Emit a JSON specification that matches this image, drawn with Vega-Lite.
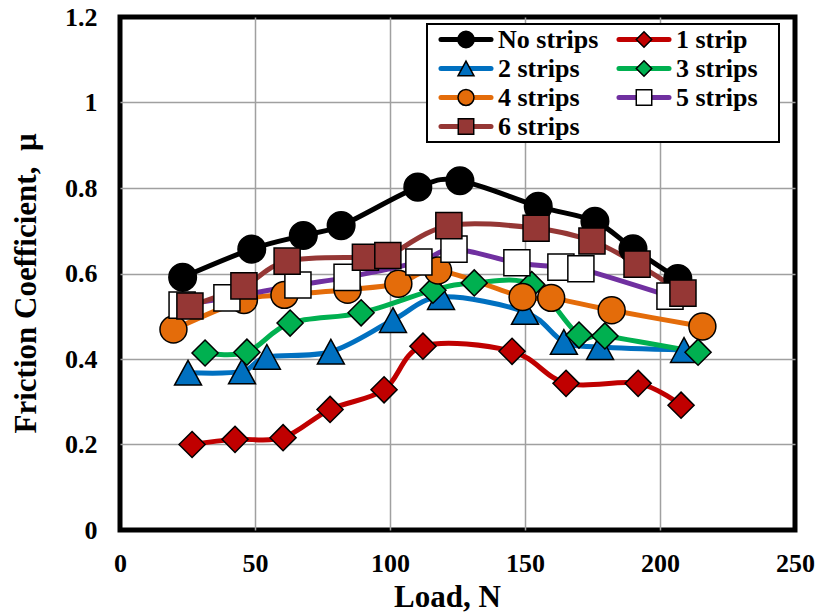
{
  "$schema": "https://vega.github.io/schema/vega-lite/v6.json",
  "width": 675,
  "height": 513,
  "autosize": {"type": "none"},
  "padding": {"left": 120, "top": 17, "right": 22, "bottom": 85},
  "background": "white",
  "config": {
    "view": {"stroke": "black", "strokeWidth": 5},
    "font": "Liberation Serif",
    "axis": {
      "labelFont": "Liberation Serif",
      "labelFontSize": 26,
      "labelFontWeight": "bold",
      "labelColor": "black",
      "titleFont": "Liberation Serif",
      "titleFontSize": 31,
      "titleFontWeight": "bold",
      "titleColor": "black",
      "ticks": false,
      "domain": false,
      "gridColor": "#A0A0A0",
      "gridWidth": 1.5,
      "labelFlush": false,
      "labelOverlap": false
    }
  },
  "data": {
    "values": [
      {"series": "No strips", "load": 23.2, "mu": 0.591},
      {"series": "No strips", "load": 48.8, "mu": 0.657},
      {"series": "No strips", "load": 67.9, "mu": 0.689},
      {"series": "No strips", "load": 81.9, "mu": 0.712},
      {"series": "No strips", "load": 110.3, "mu": 0.802},
      {"series": "No strips", "load": 125.9, "mu": 0.817},
      {"series": "No strips", "load": 154.9, "mu": 0.757},
      {"series": "No strips", "load": 175.9, "mu": 0.722},
      {"series": "No strips", "load": 190.0, "mu": 0.658},
      {"series": "No strips", "load": 206.6, "mu": 0.588},
      {"series": "1 strip", "load": 26.7, "mu": 0.2},
      {"series": "1 strip", "load": 42.6, "mu": 0.212},
      {"series": "1 strip", "load": 60.4, "mu": 0.216},
      {"series": "1 strip", "load": 77.8, "mu": 0.282},
      {"series": "1 strip", "load": 97.8, "mu": 0.328},
      {"series": "1 strip", "load": 112.2, "mu": 0.43},
      {"series": "1 strip", "load": 145.2, "mu": 0.418},
      {"series": "1 strip", "load": 165.2, "mu": 0.343},
      {"series": "1 strip", "load": 191.9, "mu": 0.343},
      {"series": "1 strip", "load": 207.8, "mu": 0.292},
      {"series": "2 strips", "load": 25.2, "mu": 0.368},
      {"series": "2 strips", "load": 45.2, "mu": 0.371},
      {"series": "2 strips", "load": 54.4, "mu": 0.405},
      {"series": "2 strips", "load": 78.1, "mu": 0.417},
      {"series": "2 strips", "load": 101.1, "mu": 0.491},
      {"series": "2 strips", "load": 118.9, "mu": 0.545},
      {"series": "2 strips", "load": 150.0, "mu": 0.51},
      {"series": "2 strips", "load": 164.4, "mu": 0.44},
      {"series": "2 strips", "load": 177.8, "mu": 0.428},
      {"series": "2 strips", "load": 208.9, "mu": 0.421},
      {"series": "3 strips", "load": 31.5, "mu": 0.414},
      {"series": "3 strips", "load": 47.0, "mu": 0.416},
      {"series": "3 strips", "load": 63.0, "mu": 0.484},
      {"series": "3 strips", "load": 89.3, "mu": 0.508},
      {"series": "3 strips", "load": 115.9, "mu": 0.561},
      {"series": "3 strips", "load": 131.2, "mu": 0.578},
      {"series": "3 strips", "load": 152.5, "mu": 0.574},
      {"series": "3 strips", "load": 170.0, "mu": 0.456},
      {"series": "3 strips", "load": 179.6, "mu": 0.454},
      {"series": "3 strips", "load": 214.1, "mu": 0.416},
      {"series": "4 strips", "load": 19.8, "mu": 0.469},
      {"series": "4 strips", "load": 45.9, "mu": 0.538},
      {"series": "4 strips", "load": 60.9, "mu": 0.55},
      {"series": "4 strips", "load": 84.3, "mu": 0.562},
      {"series": "4 strips", "load": 103.1, "mu": 0.576},
      {"series": "4 strips", "load": 117.8, "mu": 0.607},
      {"series": "4 strips", "load": 149.1, "mu": 0.545},
      {"series": "4 strips", "load": 159.7, "mu": 0.543},
      {"series": "4 strips", "load": 182.1, "mu": 0.514},
      {"series": "4 strips", "load": 215.7, "mu": 0.476},
      {"series": "5 strips", "load": 23.0, "mu": 0.526},
      {"series": "5 strips", "load": 39.6, "mu": 0.543},
      {"series": "5 strips", "load": 65.9, "mu": 0.573},
      {"series": "5 strips", "load": 84.1, "mu": 0.591},
      {"series": "5 strips", "load": 110.7, "mu": 0.627},
      {"series": "5 strips", "load": 123.7, "mu": 0.657},
      {"series": "5 strips", "load": 147.0, "mu": 0.625},
      {"series": "5 strips", "load": 163.3, "mu": 0.615},
      {"series": "5 strips", "load": 170.7, "mu": 0.611},
      {"series": "5 strips", "load": 203.7, "mu": 0.547},
      {"series": "6 strips", "load": 25.9, "mu": 0.524},
      {"series": "6 strips", "load": 45.9, "mu": 0.571},
      {"series": "6 strips", "load": 61.9, "mu": 0.629},
      {"series": "6 strips", "load": 90.9, "mu": 0.638},
      {"series": "6 strips", "load": 99.2, "mu": 0.642},
      {"series": "6 strips", "load": 121.8, "mu": 0.712},
      {"series": "6 strips", "load": 154.1, "mu": 0.706},
      {"series": "6 strips", "load": 174.8, "mu": 0.676},
      {"series": "6 strips", "load": 191.5, "mu": 0.622},
      {"series": "6 strips", "load": 208.5, "mu": 0.554}
    ]
  },
  "encoding": {
    "x": {
      "field": "load",
      "type": "quantitative",
      "scale": {"domain": [0, 250], "nice": false, "zero": false},
      "axis": {
        "values": [0, 50, 100, 150, 200, 250],
        "title": "Load, N",
        "labelPadding": 41,
        "labelBaseline": "alphabetic",
        "titleX": 327,
        "titleY": 76,
        "titleBaseline": "alphabetic",
        "gridOpacity": {"condition": {"test": "datum.value === 0 || datum.value === 250", "value": 0}, "value": 1}
      }
    },
    "y": {
      "field": "mu",
      "type": "quantitative",
      "scale": {"domain": [0, 1.2], "nice": false},
      "axis": {
        "values": [0, 0.2, 0.4, 0.6, 0.8, 1, 1.2],
        "format": "~g",
        "title": "Friction Coefficient,\u00a0 μ",
        "labelPadding": 23,
        "titleX": -85,
        "titleY": 266,
        "titleAngle": 270,
        "titleBaseline": "alphabetic",
        "gridOpacity": {"condition": {"test": "datum.value === 0 || datum.value === 1.2", "value": 0}, "value": 1}
      }
    }
  },
  "layer": [
    {
      "mark": {"type": "line", "interpolate": "cardinal", "strokeWidth": 5},
      "encoding": {
        "stroke": {
          "field": "series",
          "type": "nominal",
          "scale": {
            "domain": ["No strips", "1 strip", "2 strips", "3 strips", "4 strips", "5 strips", "6 strips"],
            "range": ["#000000", "#C00000", "#0070C0", "#00B050", "#E46C0A", "#7030A0", "#953735"]
          },
          "legend": {
            "orient": "none",
            "direction": "horizontal",
            "legendX": 307,
            "legendY": 7,
            "title": "xx",
            "titleOrient": "right",
            "titlePadding": 5,
            "titleFontSize": 14,
            "titleOpacity": 0,
            "values": ["No strips", "1 strip", "2 strips", "3 strips", "4 strips", "5 strips", "6 strips"],
            "columns": 2,
            "columnPadding": 8,
            "rowPadding": 2,
            "clipHeight": 27,
            "symbolType": "M-0.725,0H0.725",
            "symbolSize": 4761,
            "symbolStrokeWidth": 5,
            "symbolOffset": 0,
            "labelFont": "Liberation Serif",
            "labelFontSize": 26,
            "labelFontWeight": "bold",
            "labelColor": "black",
            "labelOffset": -5,
            "padding": 2,
            "strokeColor": "black",
            "fillColor": "white",
            "encode": {
              "symbols": {"update": {"strokeCap": {"value": "round"}}},
              "legend": {"update": {"strokeWidth": {"value": 2}}}
            }
          }
        }
      }
    },
    {
      "mark": {"type": "point", "filled": true, "stroke": "black", "strokeWidth": 1.5, "size": 15000, "opacity": 1},
      "encoding": {
        "shape": {
          "field": "series",
          "type": "nominal",
          "scale": {
            "domain": ["1 strip", "2 strips", "3 strips", "4 strips", "5 strips", "6 strips", "No strips"],
            "range": [
              "M0,-0.213L0.213,0L0,0.213L-0.213,0Z",
              "M0,-0.202L0.22,0.202L-0.22,0.202Z",
              "M0,-0.213L0.213,0L0,0.213L-0.213,0Z",
              "M0.22,0A0.22,0.22,0,1,1,-0.22,0A0.22,0.22,0,1,1,0.22,0Z",
              "M-0.213,-0.213H0.213V0.213H-0.213Z",
              "M-0.213,-0.213H0.213V0.213H-0.213Z",
              "M0.225,0A0.225,0.225,0,1,1,-0.225,0A0.225,0.225,0,1,1,0.225,0Z"
            ]
          },
          "legend": {
            "orient": "none",
            "direction": "horizontal",
            "legendX": 307,
            "legendY": 7,
            "title": null,
            "values": ["No strips", "1 strip", "2 strips", "3 strips", "4 strips", "5 strips", "6 strips"],
            "columns": 2,
            "columnPadding": 8,
            "rowPadding": 2,
            "clipHeight": 27,
            "symbolSize": 5256,
            "symbolStrokeWidth": 1.5,
            "symbolStrokeColor": "black",
            "symbolOffset": 0,
            "symbolOpacity": 1,
            "labelFont": "Liberation Serif",
            "labelFontSize": 26,
            "labelFontWeight": "bold",
            "labelOpacity": 0,
            "labelOffset": -5,
            "padding": 2,
            "encode": {"symbols": {"update": {"stroke": {"value": "black"}, "strokeWidth": {"value": 1.5}}}}
          }
        },
        "fill": {
          "field": "series",
          "type": "nominal",
          "scale": {
            "domain": ["1 strip", "2 strips", "3 strips", "4 strips", "5 strips", "6 strips", "No strips"],
            "range": ["#C00000", "#0070C0", "#00B050", "#E46C0A", "#FFFFFF", "#953735", "#000000"]
          },
          "legend": {
            "orient": "none",
            "direction": "horizontal",
            "legendX": 307,
            "legendY": 7,
            "title": null,
            "values": ["No strips", "1 strip", "2 strips", "3 strips", "4 strips", "5 strips", "6 strips"],
            "columns": 2,
            "columnPadding": 8,
            "rowPadding": 2,
            "clipHeight": 27,
            "symbolSize": 5256,
            "symbolStrokeWidth": 1.5,
            "symbolStrokeColor": "black",
            "symbolOffset": 0,
            "symbolOpacity": 1,
            "labelFont": "Liberation Serif",
            "labelFontSize": 26,
            "labelFontWeight": "bold",
            "labelOpacity": 0,
            "labelOffset": -5,
            "padding": 2,
            "encode": {"symbols": {"update": {"stroke": {"value": "black"}, "strokeWidth": {"value": 1.5}}}}
          }
        }
      }
    }
  ]
}
